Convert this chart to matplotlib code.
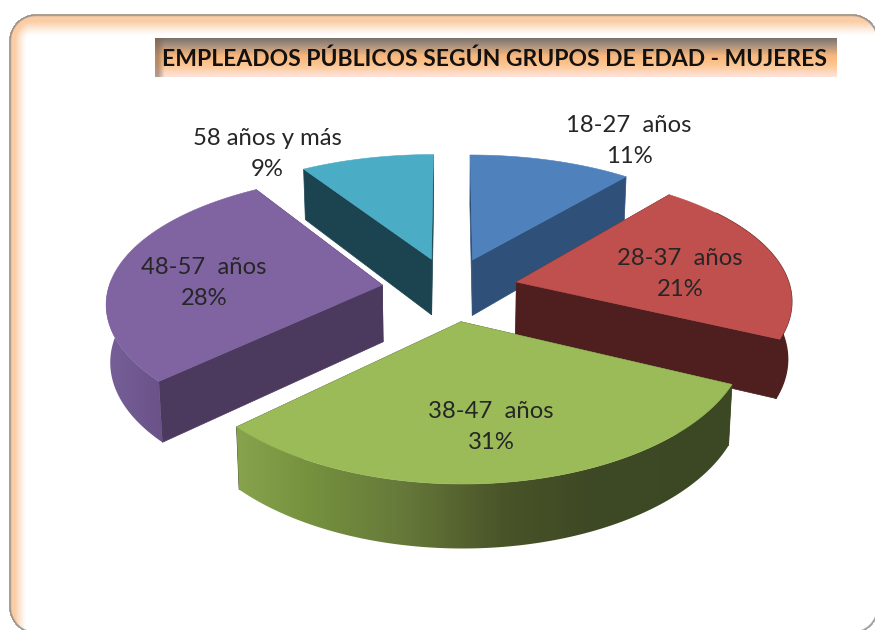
import numpy as np
import matplotlib
matplotlib.use('Agg')
import matplotlib.pyplot as plt
from matplotlib.patches import Polygon
from matplotlib.colors import LinearSegmentedColormap

# datos del grafico
grupos = ['18-27  años', '28-37  años', '38-47  años', '48-57  años', '58 años y más']
porcentajes = [11, 21, 31, 28, 9]
color_arriba = ['#4f81bd', '#c0504d', '#9bbb59', '#8064a2', '#4bacc6']
color_lado = ['#2f5078', '#4f1f1f', '#3c4824', '#4b3a5e', '#1c4450']
titulo = 'EMPLEADOS PÚBLICOS SEGÚN GRUPOS DE EDAD - MUJERES'

plt.rcParams['font.family'] = ['Lato', 'DejaVu Sans']

CX, CY = 450, 289
A, B = 274, 128
PX, PY = 0.123, 0.1456   # perspectiva
EXPL = 0.25


def proy(x, y, z=0):
    sx = 1 / (1 - PX * y)
    sy = 1 / (1 - PY * y)
    return CX + A * x * sx * (1 - 0.012 * z), CY + B * y * sy + (57 + 6 * y) * z


def sdf(px, py, l, t, r, b, rad):
    # distancia hacia dentro de un rectangulo redondeado
    qx = np.maximum(np.abs(px - (l + r) / 2) - (r - l) / 2 + rad, 0)
    qy = np.maximum(np.abs(py - (t + b) / 2) - (b - t) / 2 + rad, 0)
    dentro = np.minimum(np.maximum(np.abs(px - (l + r) / 2) - (r - l) / 2 + rad,
                                   np.abs(py - (t + b) / 2) - (b - t) / 2 + rad), 0)
    return -(np.hypot(qx, qy) + dentro - rad)


fig = plt.figure(figsize=(8.75, 6.3), dpi=100)
ax = fig.add_axes([0, 0, 1, 1])

# fondo con borde redondeado
yy, xx = np.mgrid[0:630, 0:875] + 0.5
d = sdf(xx, yy, 9, 14, 879, 634, 27)
d2 = sdf(xx, 14 + (yy - 14) * 0.8, 9, 14, 900, 700, 22)
glow = np.clip((17 - d2) / 11, 0, 1) ** 1.2
fondo = np.ones((630, 875, 3))
peach = np.array([251, 205, 165]) / 255
for i in range(3):
    fondo[:, :, i] = 1 - glow * (1 - peach[i])
gris = np.array([140, 140, 140]) / 255
borde = np.clip(1 - np.abs(d - 1) / 1.8, 0, 1)
for i in range(3):
    fondo[:, :, i] = fondo[:, :, i] * (1 - borde) + gris[i] * borde
    fondo[:, :, i] = np.where(d < 0, 1, fondo[:, :, i])
ax.imshow(fondo, extent=(0, 875, 630, 0), aspect='auto', zorder=0, interpolation='bilinear')

# caja del titulo
cmap_t = LinearSegmentedColormap.from_list('t', [(0, '#7d7468'), (0.18, '#a8917f'), (0.45, '#f8b67c'),
                                                 (0.7, '#fdc690'), (1, '#fde3dc')])
ax.imshow(np.linspace(0, 1, 40)[:, None], cmap=cmap_t, extent=(155, 837, 77, 38), aspect='auto', zorder=1)
ax.imshow(np.array([[0.55, 0]]), cmap=LinearSegmentedColormap.from_list(
    'l', [(0.5, 0.38, 0.3, 0), (0.5, 0.38, 0.3, 1)]), vmin=0, vmax=1,
    extent=(155, 168, 77, 38), aspect='auto', zorder=1.1, interpolation='bilinear')
ax.text(495, 59, titulo, fontsize=16.5, fontweight='bold', color='#111111', ha='center', va='center', zorder=5)

# rebanadas: el angulo sale del porcentaje, en sentido horario desde arriba
bordes = np.concatenate([[0], np.cumsum(porcentajes)]) / sum(porcentajes) * 2 * np.pi
cmap_verde = LinearSegmentedColormap.from_list('v', [(0, '#88a44d'), (0.15, '#76923f'), (0.34, '#66793a'),
                                                     (0.54, '#4a5429'), (0.72, '#3e4824'), (1, '#3c4824')])
cmap_lila = LinearSegmentedColormap.from_list('m', ['#78609a', '#6a5288'])
orden = [4, 0, 3, 1, 2]
for n, i in enumerate(orden):
    z = 2 + n
    a0, a1 = bordes[i], bordes[i + 1]
    med = (a0 + a1) / 2
    ox, oy = EXPL * np.sin(med), -EXPL * np.cos(med)
    th = np.linspace(a0, a1, 120)
    x = ox + np.sin(th)
    y = oy - np.cos(th)
    # paredes rectas
    for k in [0, -1]:
        pts = [proy(ox, oy), proy(x[k], y[k]), proy(x[k], y[k], 1), proy(ox, oy, 1)]
        ax.add_patch(Polygon(pts, closed=True, fc=color_lado[i], ec=color_lado[i], lw=0.5, zorder=z))
    # pared curva, solo la parte que mira al frente
    frente = np.cos(th) <= 0.6
    if i in (0, 4):
        frente = np.zeros_like(th, dtype=bool)
    if frente.any():
        arr = [proy(a, b) for a, b in zip(x[frente], y[frente])]
        aba = [proy(a, b, 1) for a, b in zip(x[frente], y[frente])]
        pared = Polygon(arr + aba[::-1], closed=True, fc='none', ec='none', zorder=z)
        ax.add_patch(pared)
        if i == 2:
            im = ax.imshow(np.linspace(0, 1, 256)[None, :], cmap=cmap_verde, extent=(232, 732, 560, 380),
                           aspect='auto', zorder=z)
            im.set_clip_path(pared)
        elif i == 3:
            im = ax.imshow(np.linspace(0, 1, 256)[None, :], cmap=cmap_lila, extent=(100, 165, 450, 280),
                           aspect='auto', zorder=z)
            im.set_clip_path(pared)
        else:
            pared.set_facecolor(color_lado[i])
            pared.set_edgecolor(color_lado[i])
    # cara de arriba
    pts = [proy(ox, oy)] + [proy(a, b) for a, b in zip(x, y)]
    ax.add_patch(Polygon(pts, closed=True, fc=color_arriba[i], ec=color_arriba[i], lw=0.4, zorder=z))

# etiquetas
pos_x = [629, 680, 491, 204, 267]
pos_y = [141, 274, 427, 283, 154]
for g, v, lx, ly in zip(grupos, porcentajes, pos_x, pos_y):
    ax.text(lx, ly, '%s\n%d%%' % (g, v), fontsize=17.2, color='#262626', ha='center', va='center',
            linespacing=1.58, zorder=10)

ax.set_xlim(0, 875)
ax.set_ylim(630, 0)
ax.axis('off')
fig.savefig('out.png', dpi=100)
